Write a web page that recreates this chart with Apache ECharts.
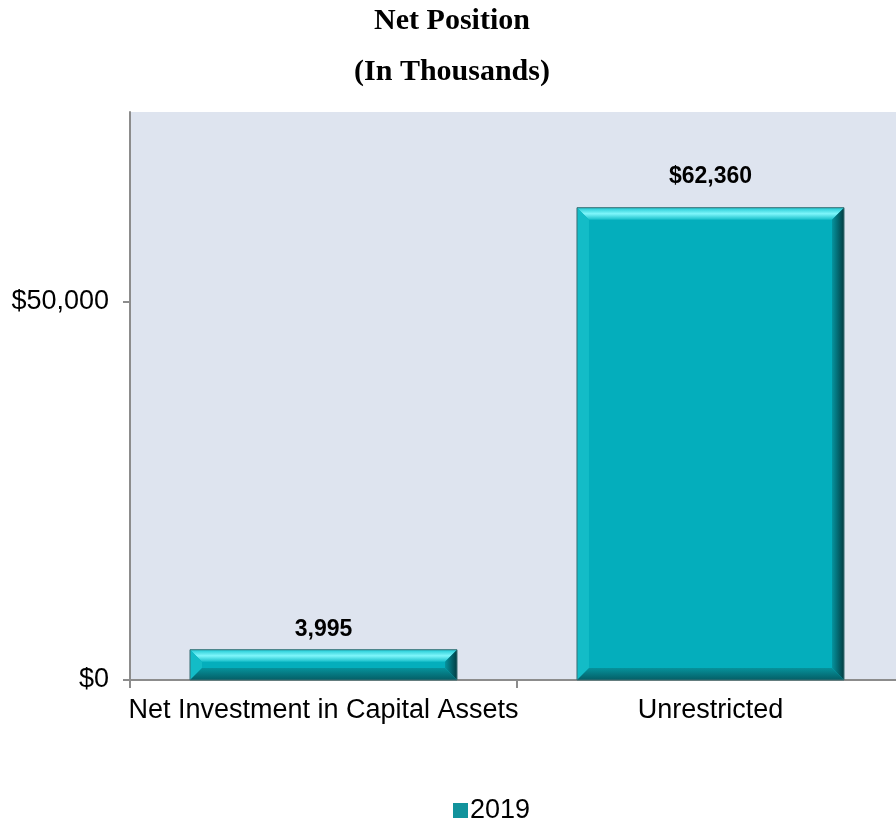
<!DOCTYPE html>
<html><head><meta charset="utf-8">
<script src="https://cdn.jsdelivr.net/npm/echarts@6/dist/echarts.min.js"></script>
<style>html,body{margin:0;padding:0;background:#fff;overflow:hidden}#c{width:904px;height:823px}</style>
</head><body><div id="c"></div>
<script>
const titleLines = ['Net Position', '(In Thousands)'];
const categories = ['Net Investment in Capital Assets', 'Unrestricted'];
const seriesName = '2019';
const values = [3995, 62360];
const dataLabels = ['3,995', '$62,360'];
const yTickValues = [0, 50000];
const yTickLabels = ['$0', '$50,000'];

// label gaps (style only)
const labelGap = [9, 20];

const chart = echarts.init(document.getElementById('c'));
const BAR_FRAC = 0.69;
const BEV = 12;

function bevel(params, api) {
  const i = api.value(0), v = api.value(1);
  const top = api.coord([i, v]);
  const base = api.coord([i, 0]);
  const w = api.size([1, 0])[0] * BAR_FRAC;
  const x0 = top[0] - w / 2, x1 = top[0] + w / 2;
  const y0 = top[1], y1 = base[1];
  const b = Math.min(BEV, (y1 - y0) / 2, w / 2);
  const poly = (pts, fill) => ({ type: 'polygon', shape: { points: pts }, style: { fill: fill }, silent: true });
  return {
    type: 'group',
    children: [
      poly([[x0, y0], [x1, y0], [x1 - b, y0 + b], [x0 + b, y0 + b]],
        new echarts.graphic.LinearGradient(0, 0, 0, 1, [
          { offset: 0, color: '#1fc9d3' }, { offset: 0.5, color: '#7ff6fb' }, { offset: 1, color: '#18bfca' }])),
      poly([[x0, y0], [x0 + b, y0 + b], [x0 + b, y1 - b], [x0, y1]], '#13bcc7'),
      poly([[x1, y0], [x1, y1], [x1 - b, y1 - b], [x1 - b, y0 + b]],
        new echarts.graphic.LinearGradient(0, 0, 1, 0, [
          { offset: 0, color: '#05949f' }, { offset: 1, color: '#023c42' }])),
      poly([[x0, y1], [x0 + b, y1 - b], [x1 - b, y1 - b], [x1, y1]],
        new echarts.graphic.LinearGradient(0, 0, 0, 1, [
          { offset: 0, color: '#06929c' }, { offset: 1, color: '#045e66' }])),
      { type: 'rect', shape: { x: x0, y: y0, width: w, height: y1 - y0 },
        style: { fill: 'none', stroke: '#3d6e73', lineWidth: 1 }, silent: true }
    ]
  };
}

const titleStyle = { fontFamily: 'Liberation Serif', fontWeight: 'bold', fontSize: 30, lineHeight: 30, color: '#000' };

chart.setOption({
  animation: false,
  backgroundColor: '#ffffff',
  title: [
    { text: titleLines[0], left: 'center', top: 6, padding: 0, textStyle: titleStyle },
    { text: titleLines[1], left: 'center', top: 57, padding: 0, textStyle: titleStyle }
  ],
  legend: {
    top: 792,
    left: 448,
    data: [seriesName],
    icon: 'rect',
    itemWidth: 15, itemHeight: 15, itemGap: 4,
    itemStyle: { color: '#12939c' },
    textStyle: { fontFamily: 'Liberation Sans', fontSize: 27, color: '#000', padding: [0, 0, 0, -3] }
  },
  grid: {
    left: 130, width: 774, top: 112, height: 568,
    show: true, backgroundColor: '#dee4ef', borderWidth: 0
  },
  xAxis: {
    type: 'category',
    data: categories,
    axisLine: { lineStyle: { color: '#8c8c8c', width: 2 } },
    axisTick: { show: true, length: 8, interval: 0, lineStyle: { color: '#8c8c8c', width: 2 } },
    axisLabel: { fontFamily: 'Liberation Sans', fontSize: 27, color: '#000', margin: 17, interval: 0 }
  },
  yAxis: {
    type: 'value',
    min: 0, max: 75000, interval: 25000,
    axisLine: { show: true, lineStyle: { color: '#8c8c8c', width: 2 } },
    axisTick: { show: true, length: 7, customValues: yTickValues, lineStyle: { color: '#8c8c8c', width: 2 } },
    axisLabel: {
      fontFamily: 'Liberation Sans', fontSize: 27, color: '#000', margin: 21,
      customValues: yTickValues,
      formatter: v => yTickLabels[yTickValues.indexOf(v)]
    },
    splitLine: { show: true, lineStyle: { color: ['#dee4ef', '#dee4ef', '#8c8c8c', '#dee4ef'], width: 2 } }
  },
  series: [
    {
      name: seriesName,
      type: 'bar',
      data: values.map((v, i) => ({ value: v, label: { distance: labelGap[i] } })),
      barCategoryGap: '31%',
      itemStyle: { color: '#04aebc' },
      label: {
        show: true, position: 'top',
        formatter: p => dataLabels[p.dataIndex],
        fontFamily: 'Liberation Sans', fontWeight: 'bold', fontSize: 23, color: '#000'
      },
      z: 2
    },
    {
      name: 'bevel',
      type: 'custom',
      renderItem: bevel,
      data: values.map((v, i) => [i, v]),
      silent: true,
      z: 3
    }
  ]
});
</script></body></html>
